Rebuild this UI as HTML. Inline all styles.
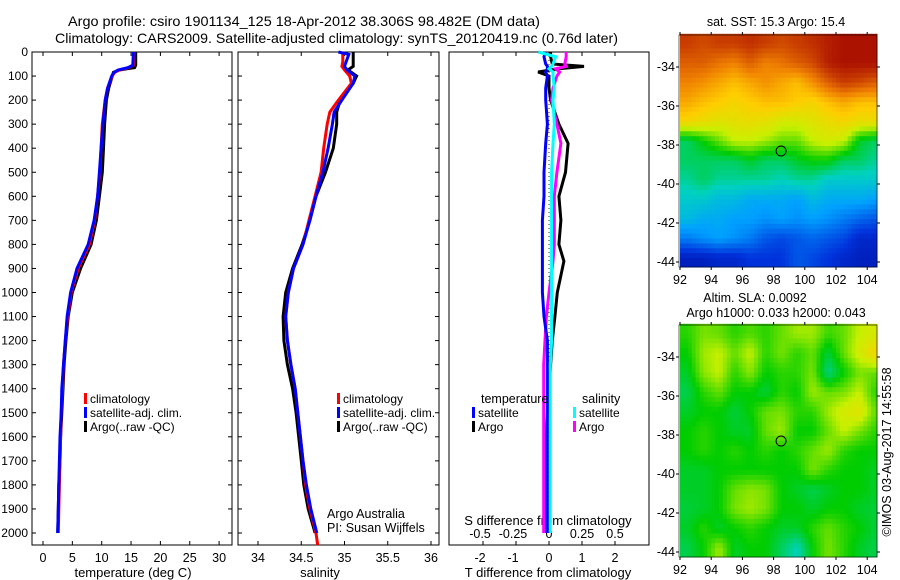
<!DOCTYPE html>
<html><head><meta charset="utf-8">
<style>
html,body{margin:0;padding:0;background:#fff;}
svg{display:block;font-family:"Liberation Sans",sans-serif;}
text{font-size:12px;fill:#000;}
</style></head>
<body>
<svg id="fig" width="900" height="580" viewBox="0 0 900 580">
<text x="68" y="26" style="font-size:14px" textLength="472" lengthAdjust="spacingAndGlyphs">Argo profile: csiro 1901134_125 18-Apr-2012 38.306S 98.482E (DM data)</text>
<text x="55" y="43" style="font-size:14px" textLength="563" lengthAdjust="spacingAndGlyphs">Climatology: CARS2009. Satellite-adjusted climatology: synTS_20120419.nc (0.76d later)</text>
<g id="g"></g>
</svg>
<script>
// ---- data ----
const depthsT = [0,55,65,75,85,100,150,200,300,400,500,600,700,800,900,1000,1100,1200,1300,1400,1500,1600,1700,1800,1900,2000];
const tempClim = [15.5,15.4,14.6,13.0,12.2,11.8,11.0,10.6,10.1,9.9,9.7,9.3,8.8,7.9,6.0,4.8,4.2,3.8,3.5,3.3,3.1,3.0,2.9,2.8,2.7,2.6];
const tempSat  = [15.4,15.3,14.5,12.8,12.1,11.7,11.0,10.6,10.2,9.9,9.6,9.3,8.7,7.7,5.8,4.7,4.1,3.8,3.5,3.2,3.1,2.9,2.8,2.7,2.6,2.5];
const tempArgo = [15.8,15.8,15.6,13.0,12.0,11.8,11.2,10.8,10.5,10.3,10.1,9.6,9.1,8.2,6.4,5.0,4.3,3.9,3.6,3.4,3.2,3.0,2.9,2.7,2.6,2.5];
const depthsS = [0,10,40,60,75,100,130,200,250,300,400,500,600,700,800,900,1000,1100,1200,1300,1400,1500,1600,1700,1800,1900,2000,2050];
const salClim = [34.98,34.98,34.98,34.97,35.0,35.06,35.08,34.93,34.83,34.80,34.76,34.73,34.66,34.59,34.52,34.41,34.35,34.32,34.34,34.38,34.43,34.46,34.49,34.52,34.55,34.60,34.67,34.69];
const salSat  = [34.93,35.05,35.02,35.0,35.03,35.12,35.10,34.97,34.88,34.86,34.81,34.75,34.67,34.60,34.52,34.41,34.35,34.32,34.34,34.38,34.43,34.46,34.49,34.52,34.56,34.61,34.68,null];
const salArgo = [35.10,35.10,35.10,35.10,35.04,35.14,35.10,34.95,34.91,34.91,34.87,34.78,34.67,34.60,34.51,34.40,34.32,34.29,34.30,34.34,34.40,34.44,34.47,34.50,34.53,34.58,34.66,null];
const depthsD = [0,20,50,60,70,83,100,150,200,300,380,500,600,700,800,870,1000,1100,1200,1300,1400,1500,1600,1700,1800,1900,2000];
const dTsat  = [-0.1,-0.15,-0.1,-0.05,-0.05,-0.1,-0.05,-0.1,-0.1,-0.05,-0.1,-0.15,-0.15,-0.2,-0.2,-0.2,-0.2,-0.15,-0.05,-0.05,-0.05,-0.05,-0.05,-0.05,-0.05,-0.05,-0.05];
const dTargo = [0.05,0.05,0.1,1.06,0.3,-0.33,0.0,0.0,0.05,0.3,0.58,0.5,0.3,0.36,0.3,0.45,0.25,0.18,0.1,0.05,0.0,-0.05,-0.08,-0.08,-0.1,-0.1,-0.1];
const dSsat  = [-0.08,0.05,0.03,0.02,0.0,0.03,0.03,0.04,0.03,0.04,0.03,0.02,0.02,0.02,0.02,0.02,0.02,0.02,0.02,0.01,0.01,0.01,0.01,0.01,0.01,0.01,0.01];
const dSargo = [0.13,0.13,0.12,0.13,0.05,0.08,0.06,0.03,0.02,0.06,0.09,0.06,0.04,0.04,0.04,0.03,0.0,-0.02,-0.03,-0.04,-0.04,-0.04,-0.04,-0.04,-0.04,-0.04,-0.04];
const depthTicks = [0,100,200,300,400,500,600,700,800,900,1000,1100,1200,1300,1400,1500,1600,1700,1800,1900,2000];
const tempTicks = [0,5,10,15,20,25,30];
const salTicks = [34,34.5,35,35.5,36];
const salTickLabels = ["34","34.5","35","35.5","36"];
const tdTicks = [-2,-1,0,1,2];
const sdTicks = [-0.5,-0.25,0,0.25,0.5];
const sdTickLabels = ["-0.5","-0.25","0","0.25","0.5"];
const lonTicks = [92,94,96,98,100,102,104];
const latTicks = [-34,-36,-38,-40,-42,-44];
const sstGrid = [
[0.90,0.88,0.90,0.90,0.92,0.90,0.88,0.90,0.92,0.95,0.97,0.97,0.97],
[0.85,0.85,0.82,0.80,0.85,0.80,0.82,0.85,0.88,0.95,0.97,0.97,0.97],
[0.80,0.78,0.75,0.72,0.75,0.78,0.75,0.72,0.78,0.85,0.90,0.88,0.85],
[0.75,0.72,0.70,0.68,0.70,0.72,0.72,0.70,0.68,0.72,0.75,0.72,0.72],
[0.68,0.66,0.64,0.65,0.66,0.65,0.62,0.62,0.64,0.66,0.68,0.66,0.66],
[0.45,0.50,0.55,0.60,0.60,0.58,0.55,0.55,0.60,0.62,0.60,0.48,0.45],
[0.45,0.45,0.45,0.45,0.48,0.45,0.45,0.48,0.50,0.50,0.45,0.45,0.42],
[0.42,0.45,0.42,0.42,0.42,0.42,0.40,0.42,0.42,0.38,0.38,0.38,0.38],
[0.38,0.38,0.35,0.35,0.32,0.32,0.32,0.30,0.35,0.32,0.32,0.32,0.30],
[0.35,0.32,0.32,0.30,0.30,0.28,0.30,0.28,0.30,0.28,0.25,0.22,0.20],
[0.25,0.28,0.30,0.28,0.25,0.20,0.18,0.20,0.22,0.20,0.18,0.12,0.12],
[0.10,0.10,0.12,0.12,0.15,0.15,0.15,0.20,0.18,0.15,0.12,0.10,0.10]];
const slaGrid = [
[0.52,0.56,0.55,0.52,0.54,0.52,0.55,0.58,0.58,0.53,0.55,0.60,0.62],
[0.50,0.58,0.60,0.55,0.60,0.52,0.56,0.52,0.55,0.47,0.55,0.62,0.68],
[0.48,0.57,0.60,0.52,0.57,0.50,0.52,0.52,0.56,0.43,0.50,0.56,0.55],
[0.46,0.52,0.55,0.50,0.50,0.47,0.52,0.50,0.58,0.55,0.56,0.60,0.52],
[0.48,0.50,0.50,0.47,0.50,0.55,0.56,0.52,0.52,0.58,0.62,0.64,0.55],
[0.50,0.52,0.50,0.48,0.48,0.55,0.58,0.50,0.50,0.55,0.60,0.56,0.52],
[0.50,0.52,0.50,0.52,0.50,0.52,0.50,0.52,0.55,0.58,0.52,0.50,0.50],
[0.48,0.48,0.50,0.50,0.50,0.50,0.50,0.50,0.56,0.52,0.50,0.50,0.48],
[0.48,0.48,0.50,0.55,0.57,0.56,0.50,0.48,0.46,0.48,0.50,0.50,0.48],
[0.47,0.48,0.50,0.56,0.58,0.56,0.50,0.50,0.48,0.50,0.50,0.48,0.47],
[0.48,0.52,0.48,0.50,0.52,0.50,0.48,0.48,0.52,0.55,0.52,0.50,0.47],
[0.46,0.50,0.58,0.48,0.50,0.50,0.45,0.40,0.50,0.56,0.52,0.48,0.46]];
const argoLon = 98.48, argoLat = -38.31;

// ---- helpers ----
const NS='http://www.w3.org/2000/svg';
const G=document.getElementById('g');
function mk(tag,attrs,parent){const e=document.createElementNS(NS,tag);for(const k in attrs)e.setAttribute(k,attrs[k]);(parent||G).appendChild(e);return e;}
const yD = d => 52 + d*0.2405;
const xT = t => 43 + t*5.87;
const xS = s => 258 + (s-34)*86.5;
const xTd = v => 549 + v*33;
const xSd = v => 549 + v*132;
const mapX = lon => 680 + (lon-92)*15.6;
const mapY1 = lat => 67 + (-34-lat)*19.5;
const mapY2 = lat => 357 + (-34-lat)*19.5;
function cmap(v){
  const st=[[0,0,0,130],[0.15,0,50,220],[0.3,0,160,255],[0.4,0,210,190],[0.5,0,205,0],[0.6,200,240,0],[0.7,255,205,0],[0.8,240,130,0],[0.9,200,60,0],[1,160,0,0]];
  v=Math.max(0,Math.min(1,v));
  for(let i=1;i<st.length;i++){if(v<=st[i][0]){const a=st[i-1],b=st[i],f=(v-a[0])/(b[0]-a[0]);
    return 'rgb('+[1,2,3].map(k=>Math.round(a[k]+(b[k]-a[k])*f)).join(',')+')';}}
  return 'rgb(160,0,0)';
}
function series(depths,vals,xf,color,name){
  const pts=[];for(let i=0;i<depths.length;i++){if(vals[i]!==null)pts.push(xf(vals[i]).toFixed(1)+','+yD(depths[i]).toFixed(1));}
  const p=mk('polyline',{points:pts.join(' '),fill:'none',stroke:color,'stroke-width':3,'stroke-linejoin':'miter'});
  
  
  return p;
}
function box(x0,x1,name){
  const r=mk('rect',{x:x0,y:52,width:x1-x0,height:493,fill:'none',stroke:'#000','stroke-width':1});
  
  
}
function label(x,y,s,anchor,name,extra){
  const t=mk('text',Object.assign({x:x,y:y,'text-anchor':anchor||'start'},extra||{}));t.textContent=s;
  
  
  return t;
}
function legend(x,y,color,s,name){
  const r=mk('rect',{x:x,y:y-10,width:3,height:11,fill:color});
  
  
  label(x+6,y,s,'start',name,{style:'font-size:12px'});
}

box(32,232,'temperature-panel');
box(238,439,'salinity-panel');
box(449,649,'difference-panel');
depthTicks.forEach(d=>{
  label(28,yD(d)+4,String(d),'end','depth-tick-label');
  mk('line',{x1:32,x2:36,y1:yD(d),y2:yD(d),stroke:'#000'});
  mk('line',{x1:228,x2:232,y1:yD(d),y2:yD(d),stroke:'#000'});
  mk('line',{x1:238,x2:242,y1:yD(d),y2:yD(d),stroke:'#000'});
  mk('line',{x1:435,x2:439,y1:yD(d),y2:yD(d),stroke:'#000'});
});
tempTicks.forEach(t=>{
  label(xT(t),562,String(t),'middle','temperature-tick-label',{style:'font-size:12.5px'});
  mk('line',{x1:xT(t),x2:xT(t),y1:545,y2:541,stroke:'#000'});
  mk('line',{x1:xT(t),x2:xT(t),y1:52,y2:56,stroke:'#000'});
});
label(133,577,'temperature (deg C)','middle','x-axis-title-temperature',{style:'font-size:13px'});
salTicks.forEach((s,i)=>{
  label(xS(s),562,salTickLabels[i],'middle','salinity-tick-label',{style:'font-size:12.5px'});
  mk('line',{x1:xS(s),x2:xS(s),y1:545,y2:541,stroke:'#000'});
  mk('line',{x1:xS(s),x2:xS(s),y1:52,y2:56,stroke:'#000'});
});
label(320,577,'salinity','middle','x-axis-title-salinity',{style:'font-size:13px'});
tdTicks.forEach(t=>{
  label(xTd(t)+(t<0?-3:0),562,String(t),'middle','t-difference-tick-label',{style:'font-size:12.5px'});
  mk('line',{x1:xTd(t),x2:xTd(t),y1:52,y2:56,stroke:'#000'});
});
label(548,577,'T difference from climatology','middle','x-axis-title-t-difference',{style:'font-size:13px'});
sdTicks.forEach((s,i)=>{
  label(xSd(s)+(s<0?-3:0),538,sdTickLabels[i],'middle','s-difference-tick-label',{style:'font-size:12.5px'});
  mk('line',{x1:xSd(s),x2:xSd(s),y1:545,y2:541,stroke:'#000'});
});
label(548,525,'S difference from climatology','middle','s-difference-axis-title',{style:'font-size:13px'});
const z=mk('line',{x1:xTd(0),x2:xTd(0),y1:yD(0),y2:yD(2000),stroke:'#000','stroke-dasharray':'1,3','stroke-width':0.8});



series(depthsT,tempArgo,xT,'#000','temp-argo-line');
series(depthsT,tempClim,xT,'#f00','temp-climatology-line');
series(depthsT,tempSat,xT,'#00f','temp-satellite-line');
series(depthsS,salArgo,xS,'#000','salinity-argo-line');
series(depthsS,salClim,xS,'#f00','salinity-climatology-line');
series(depthsS,salSat,xS,'#00f','salinity-satellite-line');
series(depthsD,dTargo,xTd,'#000','t-diff-argo-line');
series(depthsD,dSargo,xSd,'#f0f','s-diff-argo-line');
series(depthsD,dTsat,xTd,'#00f','t-diff-satellite-line');
series(depthsD,dSsat,xSd,'#0ff','s-diff-satellite-line');

legend(84,403,'#f00','climatology','legend-climatology');
legend(84,417,'#00f','satellite-adj. clim.','legend-satellite-adj');
legend(84,431,'#000','Argo(..raw -QC)','legend-argo');
legend(337,403,'#f00','climatology','legend2-climatology');
legend(337,417,'#00f','satellite-adj. clim.','legend2-satellite-adj');
legend(337,431,'#000','Argo(..raw -QC)','legend2-argo');
label(481,403,'temperature','start','legend-temperature-heading',{style:'font-size:12.5px'});
legend(472,417,'#00f','satellite','legend-t-satellite');
legend(472,431,'#000','Argo','legend-t-argo');
label(582,403,'salinity','start','legend-salinity-heading',{style:'font-size:12.5px'});
legend(573,417,'#0ff','satellite','legend-s-satellite');
legend(573,431,'#f0f','Argo','legend-s-argo');
label(327,518,'Argo Australia','start','credit-argo-australia',{style:'font-size:12.5px'});
label(327,532,'PI: Susan Wijffels','start','credit-pi',{style:'font-size:12.5px'});

function sample(grid,lon,lat){
  let c=lon-92.5, r=(-32.8)-lat;
  c=Math.max(0,Math.min(grid[0].length-1,c)); r=Math.max(0,Math.min(grid.length-1,r));
  const c0=Math.floor(c), r0=Math.floor(r), c1=Math.min(c0+1,grid[0].length-1), r1=Math.min(r0+1,grid.length-1);
  const fc=c-c0, fr=r-r0;
  return (grid[r0][c0]*(1-fc)+grid[r0][c1]*fc)*(1-fr)+(grid[r1][c0]*(1-fc)+grid[r1][c1]*fc)*fr;
}
function map(grid,yf,name,top,bottom){
  const gg=mk('g',{});
  
  
  const step=0.25;
  for(let lat=-32.3; lat>-44.3; lat-=step){
    for(let lon=92; lon<104.7; lon+=step){
      const v=sample(grid,lon+step/2,lat-step/2);
      const x0=mapX(lon), y0=yf(lat);
      const w=Math.min(mapX(lon+step),877)-x0, h=Math.min(yf(lat-step),bottom)-y0;
      if(w<=0||h<=0) continue;
      const cell=mk('rect',{x:x0.toFixed(1),y:y0.toFixed(1),width:(w+0.5).toFixed(1),height:(h+0.5).toFixed(1),fill:cmap(v)},gg);
      
      
    }
  }
  mk('rect',{x:679,y:top,width:198,height:bottom-top,fill:'none',stroke:'#000','stroke-width':0.6});
  lonTicks.forEach(l=>{
    label(mapX(l),bottom+17,String(l),'middle','lon-tick-label',{style:'font-size:12.5px'});
    mk('line',{x1:mapX(l),x2:mapX(l),y1:bottom,y2:bottom+3,stroke:'#000'});
    mk('line',{x1:mapX(l),x2:mapX(l),y1:top,y2:top-3,stroke:'#000'});
  });
  latTicks.forEach(l=>{
    label(675,yf(l)+4,String(l),'end','lat-tick-label',{style:'font-size:12.5px'});
    mk('line',{x1:676,x2:679,y1:yf(l),y2:yf(l),stroke:'#000'});
    mk('line',{x1:877,x2:880,y1:yf(l),y2:yf(l),stroke:'#000'});
  });
  const c=mk('circle',{cx:mapX(argoLon),cy:yf(argoLat),r:5,fill:'none',stroke:'#000','stroke-width':1});
  
  
}
map(sstGrid,mapY1,'sst-map',35,267);
map(slaGrid,mapY2,'sla-map',325,557);
label(776,26,'sat. SST: 15.3 Argo: 15.4','middle','sst-map-title',{style:'font-size:12.5px'});
label(755,302,'Altim. SLA: 0.0092','middle','sla-map-title',{style:'font-size:12.5px'});
label(776,317,'Argo h1000: 0.033 h2000: 0.043','middle','sla-map-subtitle',{style:'font-size:12.5px'});
label(0,0,'©IMOS 03-Aug-2017 14:55:58','middle','timestamp',{transform:'translate(891,452) rotate(-90)',style:'font-size:12.5px'});
</script>
</body></html>
